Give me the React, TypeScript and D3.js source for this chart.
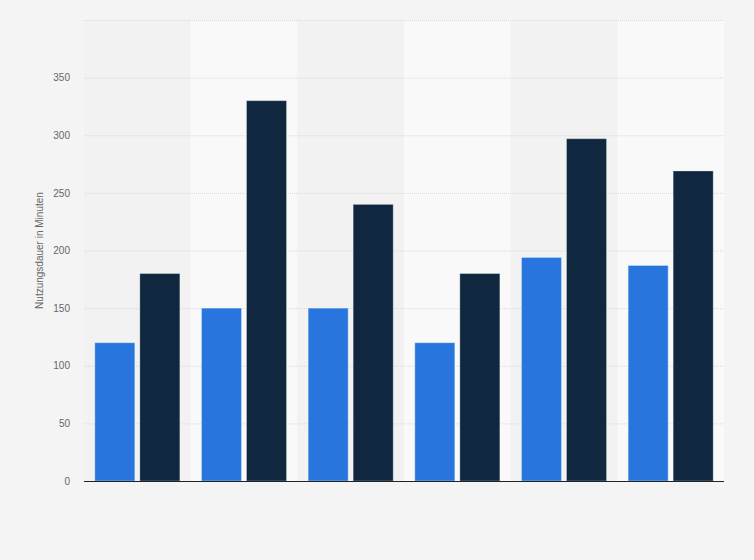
import { useRef, useEffect } from 'react';
import * as d3 from 'd3';

const categories = ['A', 'B', 'C', 'D', 'E', 'F'];
const seriesBlue = [120, 150, 150, 120, 194, 187];
const seriesDark = [180, 330, 240, 180, 297, 269];
const yTicks = [0, 50, 100, 150, 200, 250, 300, 350, 400];
const yLabel = 'Nutzungsdauer in Minuten';

const W = 754;
const H = 560;

const App = () => {
    const svgRef = useRef<SVGSVGElement | null>(null);

    useEffect(() => {
        const svgElement = svgRef.current;
        if (!svgElement) return;

        const margin = { top: 20, right: 30, bottom: 79, left: 84 };
        const svg = d3.select(svgElement);
        svg.selectAll('*').remove();

        svg.append('rect')
            .attr('width', W)
            .attr('height', H)
            .attr('fill', '#f4f4f4');

        const x = d3.scaleBand<string>()
            .domain(categories)
            .range([margin.left, W - margin.right]);

        const y = d3.scaleLinear()
            .domain([0, 400])
            .range([H - margin.bottom, margin.top]);

        // alternating column bands
        svg.append('g')
            .selectAll('rect')
            .data(categories)
            .join('rect')
            .attr('x', d => x(d)!)
            .attr('y', margin.top)
            .attr('width', x.bandwidth())
            .attr('height', y(0) - margin.top)
            .attr('fill', (_, i) => i % 2 === 0 ? '#f2f2f2' : '#f9f9f9');

        // grid
        const yAxis = svg.append('g')
            .attr('transform', `translate(${margin.left}, 0)`)
            .call(d3.axisLeft(y)
                .tickValues(yTicks)
                .tickSize(-(W - margin.left - margin.right))
                .tickPadding(14)
                .tickFormat(d => (d as number) === 400 ? '' : String(d))
            );

        yAxis.select('.domain').remove();
        yAxis.selectAll('line')
            .attr('stroke', '#d8d8d8')
            .attr('stroke-width', 1)
            .attr('stroke-dasharray', '1,1');
        yAxis.selectAll('text')
            .attr('fill', '#666')
            .style('font-family', 'Arial, "Liberation Sans", sans-serif')
            .style('font-size', '10px');

        const inner = d3.scaleBand<string>()
            .domain(['blue', 'dark'])
            .range([0, x.bandwidth()])
            .paddingInner(0.111)
            .paddingOuter(0.24);

        const groups = svg.append('g')
            .selectAll('g')
            .data(categories)
            .join('g')
            .attr('transform', d => `translate(${x(d)}, 0)`);

        groups.append('rect')
            .attr('x', inner('blue')!)
            .attr('y', (_, i) => y(seriesBlue[i]))
            .attr('width', inner.bandwidth())
            .attr('height', (_, i) => y(0) - y(seriesBlue[i]))
            .attr('fill', '#2876dd')
            .attr('stroke', 'rgba(255,255,255,0.35)')
            .attr('stroke-width', 1);

        groups.append('rect')
            .attr('x', inner('dark')!)
            .attr('y', (_, i) => y(seriesDark[i]))
            .attr('width', inner.bandwidth())
            .attr('height', (_, i) => y(0) - y(seriesDark[i]))
            .attr('fill', '#0f2840')
            .attr('stroke', 'rgba(255,255,255,0.3)')
            .attr('stroke-width', 1);

        // baseline
        svg.append('line')
            .attr('x1', margin.left)
            .attr('x2', W - margin.right)
            .attr('y1', y(0) + 0.5)
            .attr('y2', y(0) + 0.5)
            .attr('stroke', '#222')
            .attr('stroke-width', 1);

        svg.append('text')
            .attr('transform', `translate(43, ${(margin.top + y(0)) / 2}) rotate(-90)`)
            .attr('text-anchor', 'middle')
            .style('font-family', 'Arial, "Liberation Sans", sans-serif')
            .style('font-size', '10px')
            .style('fill', '#666')
            .text(yLabel);
    }, []);

    return (
        <div style={{ position: 'fixed', left: 0, top: 0, width: W, height: H }}>
            <svg ref={svgRef} width={W} height={H} style={{ display: 'block' }}></svg>
        </div>
    );
};

export default App;
